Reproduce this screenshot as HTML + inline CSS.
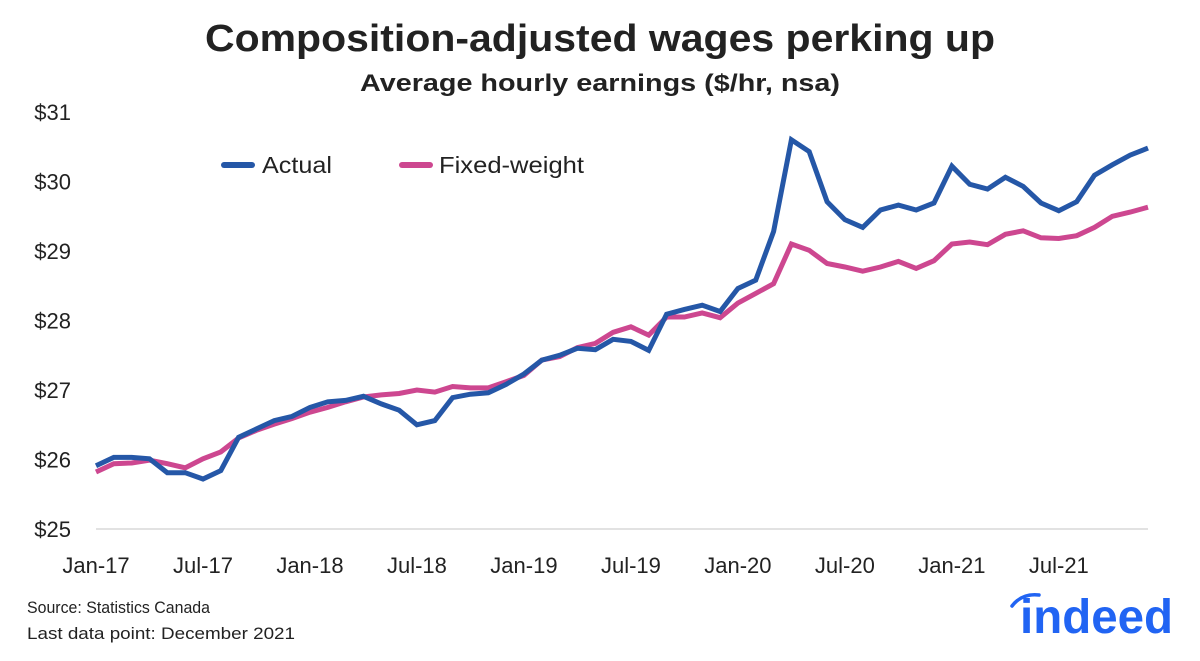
<!DOCTYPE html>
<html><head><meta charset="utf-8"><style>
body{margin:0;background:#fff;width:1200px;height:656px;overflow:hidden;font-family:"Liberation Sans",sans-serif;}
svg text{font-family:"Liberation Sans",sans-serif;}
</style></head><body>
<svg id="chart" width="1200" height="656" xmlns="http://www.w3.org/2000/svg">
<text x="600" y="51" text-anchor="middle" font-size="38" font-weight="bold" fill="#222" textLength="790" lengthAdjust="spacingAndGlyphs">Composition-adjusted wages perking up</text>
<text x="600" y="91" text-anchor="middle" font-size="24" font-weight="bold" fill="#222" textLength="480" lengthAdjust="spacingAndGlyphs">Average hourly earnings ($/hr, nsa)</text>
<g id="yaxis"></g>
<g id="xaxis"></g>
<g id="series"></g>
<g>
<line x1="224" y1="165" x2="252" y2="165" stroke="#2557a7" stroke-width="6" stroke-linecap="round"/>
<text x="262" y="173" font-size="23" fill="#222" textLength="70" lengthAdjust="spacingAndGlyphs">Actual</text>
<line x1="402" y1="165" x2="430" y2="165" stroke="#cd4790" stroke-width="6" stroke-linecap="round"/>
<text x="439" y="173" font-size="23" fill="#222" textLength="145" lengthAdjust="spacingAndGlyphs">Fixed-weight</text>
</g>
<text x="27" y="613" font-size="17" fill="#222" textLength="183" lengthAdjust="spacingAndGlyphs">Source: Statistics Canada</text>
<text x="27" y="639" font-size="17" fill="#222" textLength="268" lengthAdjust="spacingAndGlyphs">Last data point: December 2021</text>
<g>
<path d="M1012 606 Q1022 593 1039 595" stroke="#2164f3" stroke-width="3.5" fill="none" stroke-linecap="round"/>
<text x="1020" y="633" font-size="48" font-weight="bold" fill="#2164f3" textLength="153" lengthAdjust="spacingAndGlyphs">indeed</text>
</g>
</svg>
<script>
const months = ["Jan-17","Feb-17","Mar-17","Apr-17","May-17","Jun-17","Jul-17","Aug-17","Sep-17","Oct-17","Nov-17","Dec-17",
"Jan-18","Feb-18","Mar-18","Apr-18","May-18","Jun-18","Jul-18","Aug-18","Sep-18","Oct-18","Nov-18","Dec-18",
"Jan-19","Feb-19","Mar-19","Apr-19","May-19","Jun-19","Jul-19","Aug-19","Sep-19","Oct-19","Nov-19","Dec-19",
"Jan-20","Feb-20","Mar-20","Apr-20","May-20","Jun-20","Jul-20","Aug-20","Sep-20","Oct-20","Nov-20","Dec-20",
"Jan-21","Feb-21","Mar-21","Apr-21","May-21","Jun-21","Jul-21","Aug-21","Sep-21","Oct-21","Nov-21","Dec-21"];
const actual = [25.91,26.03,26.03,26.01,25.81,25.81,25.72,25.84,26.32,26.44,26.56,26.62,
26.75,26.83,26.85,26.91,26.80,26.71,26.50,26.56,26.89,26.94,26.96,27.08,
27.23,27.43,27.50,27.60,27.58,27.73,27.70,27.57,28.09,28.16,28.22,28.13,
28.46,28.58,29.28,30.60,30.43,29.71,29.45,29.34,29.59,29.66,29.59,29.69,
30.22,29.96,29.89,30.06,29.93,29.69,29.58,29.71,30.09,30.24,30.38,30.48];
const fixedWeight = [25.82,25.94,25.95,25.99,25.94,25.88,26.01,26.11,26.31,26.42,26.51,26.59,
26.68,26.75,26.83,26.90,26.93,26.95,27.00,26.97,27.05,27.03,27.03,27.12,
27.21,27.43,27.48,27.61,27.67,27.83,27.91,27.79,28.05,28.05,28.11,28.04,
28.25,28.39,28.53,29.10,29.01,28.82,28.77,28.71,28.77,28.85,28.75,28.86,
29.10,29.13,29.09,29.24,29.29,29.19,29.18,29.22,29.34,29.50,29.56,29.63];
const yTicks = [25,26,27,28,29,30,31];
const xTickLabels = ["Jan-17","Jul-17","Jan-18","Jul-18","Jan-19","Jul-19","Jan-20","Jul-20","Jan-21","Jul-21"];

const NS="http://www.w3.org/2000/svg";
const X0=96, X1=1148, Y0=529, Y1=112, YMIN=25, YMAX=31;
function xScale(i){return X0+(X1-X0)*i/(months.length-1);}
function yScale(v){return Y0-(Y0-Y1)*(v-YMIN)/(YMAX-YMIN);}
function mk(tag,attrs,parent){const e=document.createElementNS(NS,tag);for(const k in attrs)e.setAttribute(k,attrs[k]);parent.appendChild(e);return e;}

const ya=document.getElementById('yaxis');
yTicks.forEach(v=>{
  const t=mk('text',{x:71,y:yScale(v)+8,'text-anchor':'end','font-size':'22',fill:'#222'},ya);
  
  
  t.textContent='$'+v;
});
const base=mk('line',{x1:X0,x2:X1,y1:yScale(25),y2:yScale(25),stroke:'#d9d9d9','stroke-width':'1.5'},ya);



const xa=document.getElementById('xaxis');
xTickLabels.forEach(lab=>{
  const i=months.indexOf(lab);
  const t=mk('text',{x:xScale(i),y:573,'text-anchor':'middle','font-size':'22',fill:'#222'},xa);
  
  
  t.textContent=lab;
});

const sg=document.getElementById('series');
function drawLine(vals,color,name){
  const pts=vals.map((v,i)=>xScale(i).toFixed(1)+','+yScale(v).toFixed(1)).join(' ');
  const p=mk('polyline',{points:pts,fill:'none',stroke:color,'stroke-width':'5','stroke-linejoin':'miter'},sg);
  
  
}
drawLine(fixedWeight,'#cd4790','fixed-weight-line');
drawLine(actual,'#2557a7','actual-line');
</script>
</body></html>
